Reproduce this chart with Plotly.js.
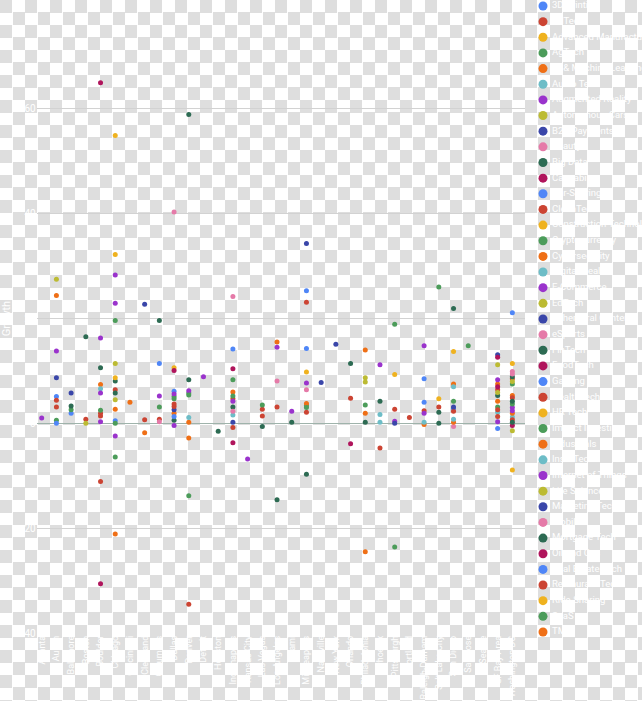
<!DOCTYPE html>
<html><head><meta charset="utf-8">
<script src="https://cdn.plot.ly/plotly-3.0.1.min.js"></script>
<style>
html,body{margin:0;padding:0;width:642px;height:701px;overflow:hidden;
background:#fff repeating-conic-gradient(#fff 0 25%, #dedede 0 50%) 0 0/25px 25px;}
#chart{width:642px;height:701px;}
</style></head><body><div id="chart"></div>
<script>
// x categories
const categories = ["Atlanta","Austin","Baltimore","Boston","Boulder","Chicago","Cincinnati","Cleveland","Columbus","Dallas","Denver","Detroit","Houston","Indianapolis","Kansas City","Las Vegas","Los Angeles","Miami","Minneapolis","Nashville","New York","Orlando","Philadelphia","Phoenix","Pittsburgh","Portland","Raleigh-Durham","Salt Lake City","San Diego","San Jose","Seattle","SF Bay Area","Washington DC"];
// series (legend) names
const industries = ["3D Printing","AdTech","Advanced Manufacturing","AgTech","AI & Machine Learning","Audio Tech","Augmented Reality","Autonomous Cars","B2B Payments","Beauty","Big Data","Cannabis","Car-Sharing","CleanTech","Construction Technology","Cryptocurrency","Cybersecurity","Digital Health","E-Commerce","EdTech","Ephemeral Content","eSports","FinTech","FoodTech","Gaming","HealthTech","HR Tech","Impact Investing","Industrials","InsurTech","Internet of Things","Life Sciences","Marketing Tech","Mobile","Mortgage Tech","Oil and Gas","Real Estate Tech","Restaurant Tech","Ride-Sharing","SaaS","TMT"];
const palette = ["#4f86f7","#cc4433","#efb21f","#4c9c5a","#ef6f16","#6dbdc7","#9a33cc","#bcbb33","#3a46a9","#e57aa8","#2d6b53","#b0155c"];
// points: category index, value, industry index
const pointCategory = [
 0,
 1,1,1,1,1,1,1,1,1,
 2,2,2,2,
 3,3,3,
 4,4,4,4,4,4,4,4,4,4,4,4,
 5,5,5,5,5,5,5,5,5,5,5,5,5,5,5,5,5,
 6,
 7,7,7,
 8,8,8,8,8,8,
 9,9,9,9,9,9,9,9,9,9,9,9,9,9,
 10,10,10,10,10,10,10,10,10,10,
 11,
 12,
 13,13,13,13,13,13,13,13,13,13,13,13,13,13,
 14,
 15,15,15,15,
 16,16,16,16,16,
 17,17,
 18,18,18,18,18,18,18,18,18,18,18,18,
 19,
 20,
 21,21,21,
 22,22,22,22,22,22,22,
 23,23,23,23,23,
 24,24,24,24,24,24,
 25,
 26,26,26,26,26,26,26,
 27,27,27,27,27,
 28,28,28,28,28,28,28,28,28,28,28,
 29,
 31,31,31,31,31,31,31,31,31,31,31,31,31,31,31,31,
 32,32,32,32,32,32,32,32,32,32,32,32,32,32,32,32,32,32,32,32,32
];
const pointValue = [
 1.0,
 27.5,24.4,13.8,8.7,5.1,4.4,3.1,0.6,0.0,
 5.8,3.3,2.6,1.9,
 16.5,0.8,0.0,
 65.0,16.3,10.6,7.4,6.6,5.8,2.5,1.9,1.4,0.3,-11.1,-30.6,
 54.9,32.2,28.3,22.9,19.6,11.4,8.7,8.1,6.4,5.8,4.5,2.7,0.5,0.0,-2.4,-6.4,-21.1,
 4.0,
 22.7,0.7,-1.8,
 19.6,11.4,5.2,3.1,0.8,0.3,
 40.3,10.6,10.1,6.1,5.6,5.1,4.7,3.7,3.2,2.6,1.9,1.3,0.6,-0.4,
 58.9,8.3,6.2,5.8,5.4,1.1,0.2,-2.8,-13.8,-34.5,
 8.9,
 -1.5,
 24.2,14.2,10.4,8.3,6.0,5.2,4.7,4.2,3.1,2.3,1.6,0.2,-0.8,-3.7,
 -6.8,
 3.5,2.7,1.4,-0.6,
 15.5,14.5,8.1,3.1,-14.6,
 2.3,0.2,
 34.3,25.3,23.1,14.3,9.8,7.7,6.4,3.8,3.4,3.0,2.1,-9.7,
 7.8,
 15.1,
 11.4,4.8,-3.9,
 14.0,8.7,7.9,3.5,1.9,0.2,-24.5,
 11.2,4.2,1.7,0.2,-4.7,
 18.9,9.3,2.7,0.4,0.0,-23.6,
 1.1,
 14.8,8.5,4.0,2.4,1.9,0.2,-0.2,
 26.0,4.7,3.1,2.1,0.0,
 21.9,13.7,7.5,7.0,4.2,3.1,2.8,2.3,0.8,0.2,-0.6,
 14.8,
 13.1,12.6,11.2,8.3,7.5,7.0,6.4,5.9,5.3,4.2,3.1,2.6,2.1,1.3,0.3,-1.0,
 21.1,11.4,9.9,9.4,8.9,8.5,8.0,7.5,5.3,4.9,4.2,3.7,3.0,2.4,1.9,1.2,0.7,0.2,-0.4,-1.4,-8.9
];
const pointIndustry = [
 6,
 7,4,6,8,0,1,13,3,12,
 8,10,3,0,
 10,1,7,
 11,6,10,4,5,18,3,1,13,30,25,23,
 2,14,6,18,3,7,26,10,1,22,19,4,0,15,30,27,16,
 4,
 8,1,4,
 10,0,6,3,1,9,
 9,2,11,0,6,3,15,1,13,8,4,12,10,18,
 10,22,6,3,15,5,4,16,27,1,
 6,
 10,
 9,0,11,3,4,15,1,6,10,21,5,8,13,23,
 6,
 3,1,13,10,
 4,6,9,1,10,
 6,10,
 8,0,1,12,2,6,9,4,3,15,13,10,
 8,
 8,
 10,1,11,
 4,7,19,3,16,10,28,
 6,10,5,17,1,
 3,2,1,6,8,15,
 1,
 6,0,12,1,18,5,4,
 3,2,1,10,22,
 10,2,4,5,3,8,0,1,17,16,9,
 3,
 8,11,7,6,4,23,1,19,10,16,3,13,5,25,18,0,
 0,2,9,21,10,1,7,3,4,13,22,15,6,18,16,5,25,34,11,19,14
];
const yTickValues = [-40,-20,0,20,40,60,80];
const yAxisTitle = "Growth";

const W = 642, H = 701;
const txt = "#ffffff";
const font = "Roboto, 'Open Sans', sans-serif";

const traces = industries.map((name, i) => {
  const xs = [], ys = [];
  pointIndustry.forEach((ind, k) => {
    if (ind === i) { xs.push(categories[pointCategory[k]]); ys.push(pointValue[k]); }
  });
  return {type:"scatter", mode:"markers", name:name, x:xs, y:ys,
    marker:{color:palette[i % palette.length], size:5}, showlegend:false,
    xaxis:"x", yaxis:"y", cliponaxis:false};
});

// custom legend drawn on its own axes: swatches, then labels
traces.push({type:"scatter", mode:"markers", xaxis:"x2", yaxis:"y2",
  x: industries.map(() => 13), y: industries.map((_, i) => i),
  marker:{color: industries.map((_, i) => palette[i % palette.length]), size:9},
  showlegend:false, hoverinfo:"skip", cliponaxis:false});
traces.push({type:"scatter", mode:"text", xaxis:"x2", yaxis:"y2",
  x: industries.map(() => 22), y: industries.map((_, i) => i),
  text: industries, textposition:"middle right",
  textfont:{color:txt, size:9.5, family:font},
  showlegend:false, hoverinfo:"skip", cliponaxis:false});

const layout = {
  width:W, height:H,
  margin:{l:0, r:0, t:0, b:0, pad:0},
  paper_bgcolor:"rgba(0,0,0,0)", plot_bgcolor:"rgba(0,0,0,0)",
  showlegend:false,
  font:{family:font, color:txt, size:10},
  xaxis:{domain:[36.7/W, 525/W], type:"category", categoryorder:"array", categoryarray:categories,
    range:[-0.34, 32.86], showgrid:false, zeroline:false, showline:false, ticks:"",
    tickangle:-90, tickfont:{color:txt, size:9, family:font}, anchor:"y", fixedrange:true},
  yaxis:{domain:[(H-633)/H, (H-4)/H], range:[-40, 80], tickvals:yTickValues,
    showgrid:true, gridcolor:"#d2d2d2", gridwidth:1,
    zeroline:true, zerolinecolor:"#9fb3ab", zerolinewidth:1, showline:false, ticks:"",
    tickfont:{color:txt, size:10, family:font},
    title:{text:yAxisTitle, font:{color:txt, size:11, family:font}, standoff:6},
    anchor:"x", fixedrange:true},
  xaxis2:{domain:[530/W, 1], range:[0, 112], visible:false, anchor:"y2", fixedrange:true},
  yaxis2:{domain:[0, 1], range:[44.41, -0.383], visible:false, anchor:"x2", fixedrange:true}
};

Plotly.newPlot("chart", traces, layout, {displayModeBar:false, staticPlot:true});
</script>
</body></html>
